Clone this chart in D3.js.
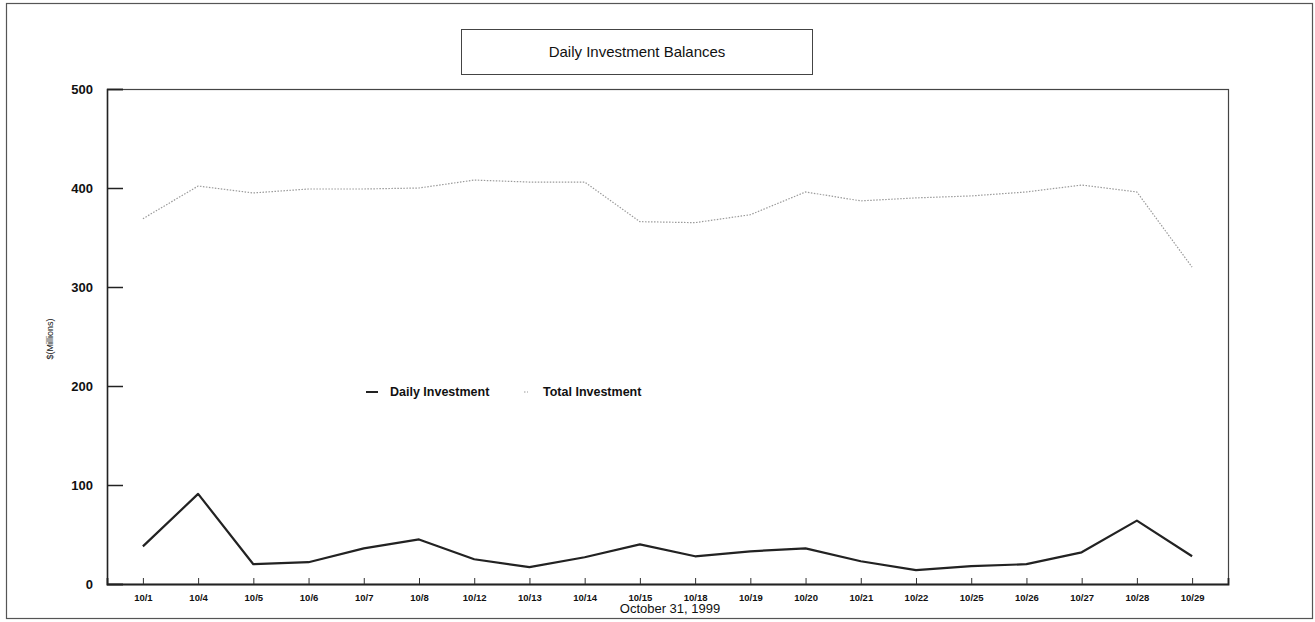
<!DOCTYPE html>
<html>
<head>
<meta charset="utf-8">
<script src="https://cdn.jsdelivr.net/npm/d3@7"></script>
<style>
  body { margin: 0; background: #fff; }
  svg { font-family: Arial, "Liberation Sans", sans-serif; }
</style>
</head>
<body>
<svg id="chart" width="1315" height="622"></svg>
<script>
// values
var dates = ["10/1", "10/4", "10/5", "10/6", "10/7", "10/8", "10/12", "10/13", "10/14", "10/15",
             "10/18", "10/19", "10/20", "10/21", "10/22", "10/25", "10/26", "10/27", "10/28", "10/29"];
var dailyInvestment = [38, 91, 20, 22, 36, 45, 25, 17, 27, 40, 28, 33, 36, 23, 14, 18, 20, 32, 64, 28];
var totalInvestment = [369, 402, 395, 399, 399, 400, 408, 406, 406, 366, 365, 373, 396, 387, 390, 392, 396, 403, 396, 320];
var yTicks = [0, 100, 200, 300, 400, 500];

var margin = {top: 89, right: 87, bottom: 38, left: 107};
var fullw = 1315, fullh = 622;
var w = fullw - margin.left - margin.right;
var h = fullh - margin.top - margin.bottom - 0;

var svg = d3.select("#chart");

// outer frame
svg.append("rect")
    .attr("x", 6.5).attr("y", 3.5)
    .attr("width", 1306).attr("height", 615)
    .attr("fill", "none")
    .attr("stroke", "#555")
    .attr("stroke-width", 1.2);

// title box
svg.append("rect")
    .attr("x", 461.5).attr("y", 29.5)
    .attr("width", 351).attr("height", 45)
    .attr("fill", "#fff")
    .attr("stroke", "#444");
svg.append("text")
    .attr("x", 637).attr("y", 57)
    .attr("text-anchor", "middle")
    .style("font-size", "15px")
    .style("fill", "#111")
    .text("Daily Investment Balances");

var x = d3.scalePoint()
    .domain(dates)
    .range([0, w])
    .padding(0.65);

var y = d3.scaleLinear()
    .domain([0, 500])
    .range([495, 0]);

var g = svg.append("g")
    .attr("transform", "translate(" + margin.left + "," + margin.top + ")");

// plot frame
g.append("rect")
    .attr("x", 0.5).attr("y", 0.5)
    .attr("width", w).attr("height", 495)
    .attr("fill", "none")
    .attr("stroke", "#444")
    .attr("stroke-width", 1.2);

// y axis: ticks pointing inward
var yAxis = d3.axisLeft(y).tickValues(yTicks).tickSize(-16).tickPadding(14);
var gY = g.append("g").call(yAxis);
gY.select(".domain").attr("stroke", "#222").attr("stroke-width", 1.5);
gY.selectAll(".tick line").attr("stroke", "#222").attr("stroke-width", 1.5);
gY.selectAll(".tick text")
    .style("font-size", "13px")
    .style("font-weight", "bold")
    .style("font-family", "Arial, 'Liberation Sans', sans-serif")
    .attr("fill", "#111");

// x axis: small inward ticks
var xAxis = d3.axisBottom(x).tickSize(-6).tickPadding(10);
var gX = g.append("g")
    .attr("transform", "translate(0,495)")
    .call(xAxis);
gX.select(".domain").attr("stroke", "#222").attr("stroke-width", 1.8);
gX.selectAll(".tick line").attr("stroke", "#333");
gX.selectAll(".tick text")
    .style("font-size", "9.5px")
    .style("font-weight", "bold")
    .style("font-family", "Arial, 'Liberation Sans', sans-serif")
    .attr("fill", "#111");

// axis titles
svg.append("text")
    .attr("x", 670).attr("y", 613)
    .attr("text-anchor", "middle")
    .style("font-size", "13px")
    .style("fill", "#111")
    .text("October 31, 1999");

svg.append("text")
    .attr("transform", "translate(53,339) rotate(-90)")
    .attr("text-anchor", "middle")
    .style("font-size", "9px")
    .style("fill", "#111")
    .text("$(Millions)");

// lines
var line = d3.line()
    .x(function (d, i) { return x(dates[i]); })
    .y(function (d) { return y(d); });

g.append("path")
    .datum(totalInvestment)
    .attr("fill", "none")
    .attr("stroke", "#9a9a9a")
    .attr("stroke-width", 1.2)
    .style("stroke-dasharray", "1.5,1.5")
    .attr("d", line);

g.append("path")
    .datum(dailyInvestment)
    .attr("fill", "none")
    .attr("stroke", "#222")
    .attr("stroke-width", 2.2)
    .attr("stroke-linejoin", "round")
    .attr("d", line);

// legend
var legend = svg.append("g");
legend.append("line")
    .attr("x1", 366).attr("x2", 378)
    .attr("y1", 392).attr("y2", 392)
    .attr("stroke", "#222").attr("stroke-width", 2);
legend.append("text")
    .attr("x", 390).attr("y", 396)
    .style("font-size", "12.5px")
    .style("font-weight", "bold")
    .style("fill", "#111")
    .text("Daily Investment");
legend.append("line")
    .attr("x1", 524).attr("x2", 528)
    .attr("y1", 392).attr("y2", 392)
    .attr("stroke", "#9a9a9a").attr("stroke-width", 1.2)
    .style("stroke-dasharray", "1.5,1.5");
legend.append("text")
    .attr("x", 543).attr("y", 396)
    .style("font-size", "12.5px")
    .style("font-weight", "bold")
    .style("fill", "#111")
    .text("Total Investment");
</script>
</body>
</html>
